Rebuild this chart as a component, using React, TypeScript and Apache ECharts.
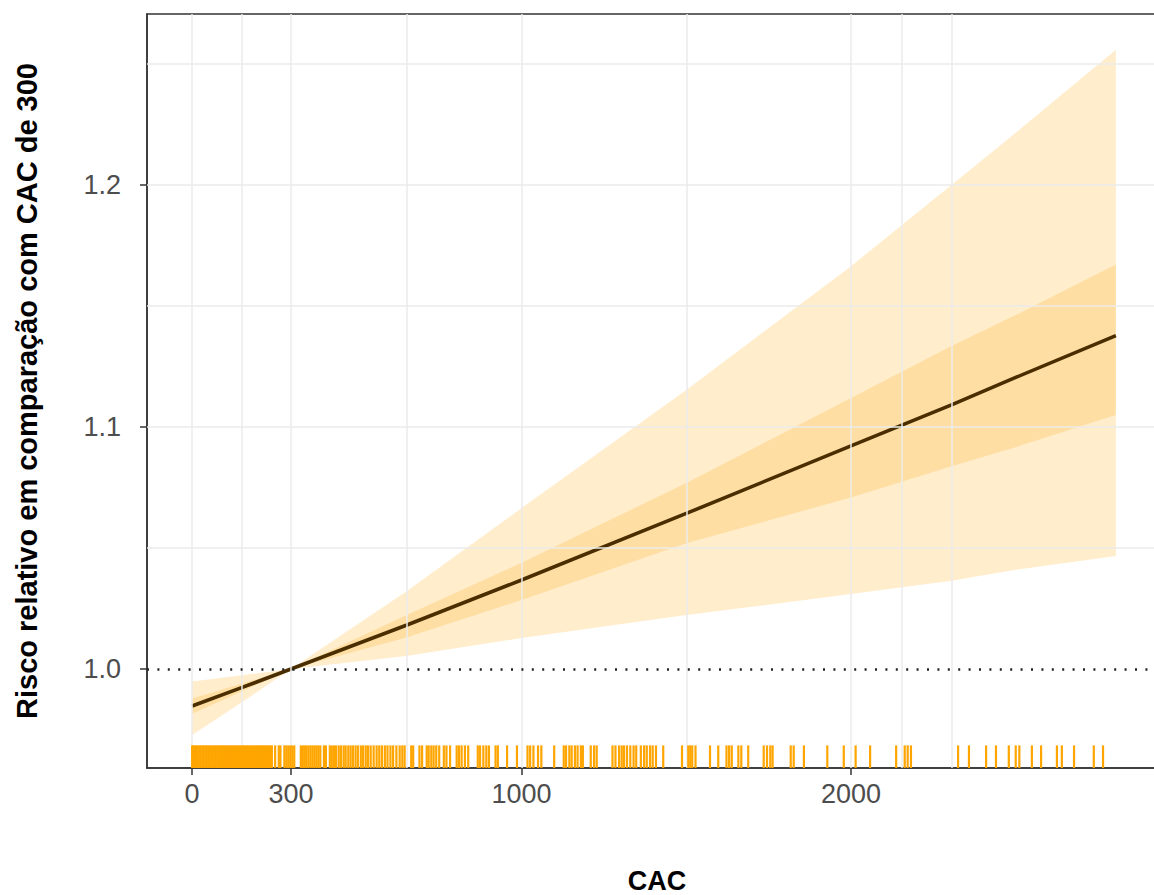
import React, { useEffect, useRef } from "react";
import * as echarts from "echarts";

// Fitted curve (relative risk vs CAC, reference CAC = 300)
const cac = [0, 150, 300, 650, 1000, 1500, 2000, 2305, 2500, 2804];
const rr = [0.9847, 0.9923, 1.0, 1.0181, 1.0368, 1.0643, 1.0922, 1.1092, 1.1205, 1.1378];
const outerLow = [0.9727, 0.9862, 1.0, 1.0054, 1.0128, 1.0223, 1.031, 1.0365, 1.041, 1.0467];
const outerHigh = [0.9948, 0.9974, 1.0, 1.032, 1.0665, 1.1153, 1.1665, 1.2, 1.2216, 1.2559];
const innerLow = [0.9815, 0.9907, 1.0, 1.013, 1.0285, 1.052, 1.0709, 1.0838, 1.0917, 1.105];
const innerHigh = [0.9878, 0.9939, 1.0, 1.0222, 1.0439, 1.0769, 1.112, 1.1335, 1.1463, 1.1672];

// Rug of observed CAC values
const rug = [
  0, 4, 9, 13, 17, 22, 26, 31, 35, 40, 44, 49, 53, 58, 62, 67, 71, 76, 80, 85, 89, 94, 98, 103, 107,
  112, 116, 121, 125, 130, 134, 139, 143, 148, 152, 157, 161, 166, 170, 175, 179, 184, 188, 193, 197,
  202, 206, 211, 215, 220, 224, 229, 233, 238, 242,
  252, 263, 268, 280, 286, 292, 298, 304, 310, 330, 336, 342, 347, 353, 359, 365, 371, 377, 383, 389,
  400, 406, 418, 424, 431, 437, 445, 452, 460, 466, 474, 481, 488, 496, 503, 512, 519, 527, 534, 542,
  551, 560, 568, 576, 585, 593, 602, 610, 620, 630, 638, 645,
  665, 671, 690, 698, 712, 718, 726, 733, 741, 750, 764, 772, 783, 803, 810, 818, 828, 838, 867, 874,
  884, 893, 901, 921, 928, 956, 986, 1018, 1026, 1036, 1050, 1060, 1099, 1128, 1135, 1145, 1152, 1162,
  1170, 1180, 1186, 1210, 1220, 1228, 1276, 1285, 1296, 1304, 1311, 1320, 1330, 1340, 1348, 1362, 1372,
  1380, 1390, 1398, 1408, 1430, 1487, 1506, 1512, 1518, 1528, 1572, 1597, 1622, 1630, 1638, 1658, 1667,
  1688, 1735, 1745, 1755, 1762, 1817, 1826, 1857, 1928, 1978, 2014, 2058, 2137, 2163, 2172, 2182,
  2325, 2358, 2410, 2440, 2479, 2500, 2511, 2549, 2577, 2625, 2640, 2677, 2737, 2765,
];

const xTicks = [0, 300, 1000, 2000];
const xGrid = [0, 150, 300, 650, 1000, 1500, 2000, 2155, 2305];
const yTicks = [1.0, 1.1, 1.2];
const yGrid = [1.05, 1.1, 1.15, 1.2, 1.25];

const X_MIN = -137;
const X_MAX = 2944;
const Y_MIN = 0.9591;
const Y_MAX = 1.2707;

const FONT = "Liberation Sans, Arial, sans-serif";

function bandSeries(lo: number[], hi: number[], z: number) {
  const rows = cac.map((x, i) => [x, lo[i], hi[i]]);
  return {
    type: "custom",
    data: rows,
    silent: true,
    z,
    renderItem: (params: any, api: any) => {
      if (params.dataIndex !== 0) return { type: "group", children: [] };
      const upper = rows.map((r) => api.coord([r[0], r[2]]));
      const lower = rows
        .slice()
        .reverse()
        .map((r) => api.coord([r[0], r[1]]));
      return {
        type: "polygon",
        shape: { points: upper.concat(lower) },
        style: { fill: "rgba(255,165,0,0.2)", stroke: "none" },
      };
    },
  };
}

export default function App() {
  const ref = useRef<HTMLDivElement>(null);

  useEffect(() => {
    if (!ref.current) return;
    const chart = echarts.init(ref.current, undefined, { renderer: "svg" });
    const gridStyle = { color: "#ebebeb", width: 1.5, type: "solid" as const };

    chart.setOption({
      animation: false,
      grid: {
        left: 147,
        top: 14,
        width: 1015,
        height: 754,
        show: true,
        borderColor: "#333333",
        borderWidth: 1.5,
        containLabel: false,
        outerBoundsMode: "none",
      },
      xAxis: {
        type: "value",
        min: X_MIN,
        max: X_MAX,
        splitLine: { show: false },
        axisLine: { show: true, onZero: false, lineStyle: { color: "#333333", width: 1.5 } },
        axisTick: { show: true, customValues: xTicks, length: 7, lineStyle: { color: "#333333", width: 1.5 } },
        axisLabel: {
          customValues: xTicks,
          margin: 12,
          fontSize: 27,
          color: "#4d4d4d",
          fontFamily: FONT,
          formatter: (v: number) => String(v),
        },
      },
      yAxis: {
        type: "value",
        min: Y_MIN,
        max: Y_MAX,
        splitLine: { show: false },
        axisLine: { show: true, onZero: false, lineStyle: { color: "#333333", width: 1.5 } },
        axisTick: { show: true, customValues: yTicks, length: 7, lineStyle: { color: "#333333", width: 1.5 } },
        axisLabel: {
          customValues: yTicks,
          margin: 26,
          fontSize: 27,
          color: "#4d4d4d",
          fontFamily: FONT,
          formatter: (v: number) => v.toFixed(1),
        },
      },
      graphic: [
        {
          type: "text",
          x: 27,
          y: 391,
          rotation: Math.PI / 2,
          style: {
            text: "Risco relativo em comparação com CAC de 300",
            fontSize: 29,
            fontWeight: "bold",
            fontFamily: FONT,
            fill: "#000000",
            textAlign: "center",
            textVerticalAlign: "middle",
          },
        },
        {
          type: "text",
          x: 657,
          y: 881,
          style: {
            text: "CAC",
            fontSize: 27,
            fontWeight: "bold",
            fontFamily: FONT,
            fill: "#000000",
            textAlign: "center",
            textVerticalAlign: "middle",
          },
        },
      ],
      series: [
        {
          type: "line",
          name: "grid",
          data: [],
          silent: true,
          z: 0,
          markLine: {
            silent: true,
            symbol: "none",
            label: { show: false },
            lineStyle: gridStyle,
            data: [
              ...xGrid.map((v) => ({ xAxis: v })),
              ...yGrid.map((v) => ({ yAxis: v })),
            ],
          },
        },
        bandSeries(outerLow, outerHigh, 1),
        bandSeries(innerLow, innerHigh, 2),
        {
          type: "line",
          data: [],
          silent: true,
          z: 3,
          markLine: {
            silent: true,
            symbol: "none",
            label: { show: false },
            lineStyle: { color: "#222222", width: 2.6, type: [2, 8.4] },
            data: [{ yAxis: 1.0 }],
          },
        },
        {
          type: "line",
          data: cac.map((x, i) => [x, rr[i]]),
          symbol: "none",
          lineStyle: { color: "#4a2e00", width: 3.6 },
          silent: true,
          z: 4,
        },
        {
          type: "custom",
          data: rug.map((v) => [v]),
          silent: true,
          z: 5,
          renderItem: (params: any, api: any) => {
            const p = api.coord([api.value(0), Y_MIN]);
            const len = 0.03 * params.coordSys.height;
            return {
              type: "line",
              shape: { x1: p[0], y1: p[1], x2: p[0], y2: p[1] - len },
              style: { stroke: "#FFA500", lineWidth: 2.2 },
            };
          },
        },
      ],
    });
    return () => chart.dispose();
  }, []);

  return (
    <div
      ref={ref}
      style={{ position: "fixed", left: 0, top: 0, width: 1154, height: 895, background: "#ffffff" }}
    />
  );
}
